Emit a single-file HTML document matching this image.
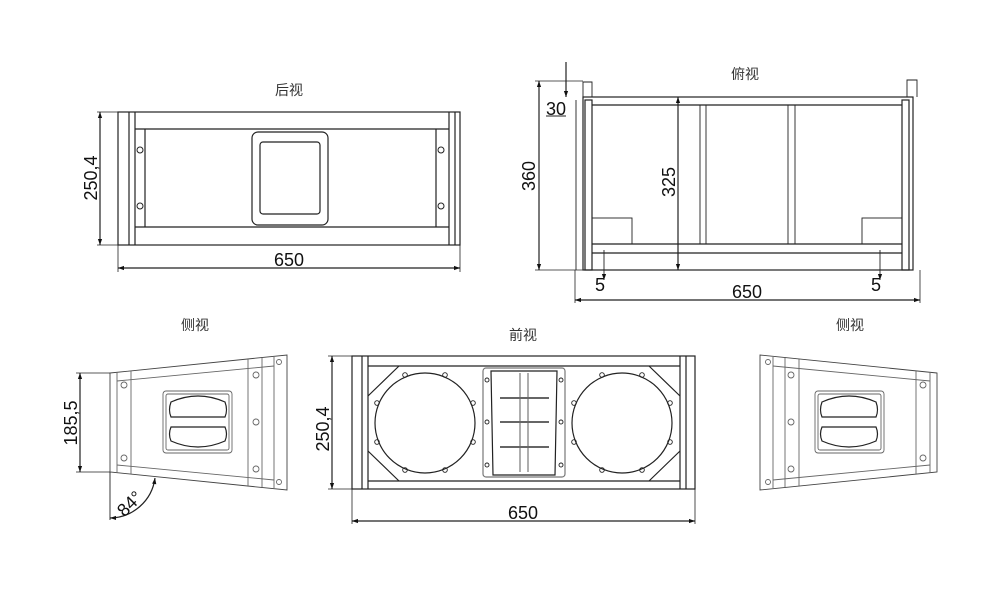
<!DOCTYPE html>
<html><head><meta charset="utf-8"><style>
html,body{margin:0;padding:0;background:#fff;}
svg{display:block;}
text{font-family:"Liberation Sans",Arial,sans-serif;fill:#111;}
.cn{font-family:"Liberation Sans","Noto Sans CJK SC",sans-serif;font-size:14px;fill:#333;}
.d{font-size:18px;}
</style></head><body>
<svg width="1000" height="600" viewBox="0 0 1000 600" xmlns="http://www.w3.org/2000/svg">
<defs>
<marker id="a" viewBox="0 0 10 10" refX="10" refY="5" markerWidth="9" markerHeight="6" orient="auto-start-reverse" markerUnits="userSpaceOnUse"><path d="M0,1.5 L10,5 L0,8.5 z" fill="#111"/></marker>
</defs>
<g fill="none" stroke="#222" stroke-width="1.2">

<!-- BACK VIEW -->
<rect x="118" y="112" width="342" height="133"/>
<line x1="129" y1="112" x2="129" y2="245"/><line x1="135" y1="112" x2="135" y2="245"/>
<line x1="449" y1="112" x2="449" y2="245"/><line x1="455" y1="112" x2="455" y2="245"/>
<line x1="135" y1="129" x2="449" y2="129"/><line x1="135" y1="227" x2="449" y2="227"/>
<line x1="145" y1="129" x2="145" y2="227"/><line x1="436" y1="129" x2="436" y2="227"/>
<rect x="252" y="132" width="76" height="93" rx="6"/>
<rect x="260" y="142" width="60" height="72" rx="3"/>
<g stroke-width="1"><circle cx="140" cy="150" r="3"/><circle cx="140" cy="206" r="3"/><circle cx="441" cy="150" r="3"/><circle cx="441" cy="206" r="3"/></g>
<line x1="118" y1="112" x2="97" y2="112" stroke-width="0.8"/><line x1="118" y1="245" x2="97" y2="245" stroke-width="0.8"/>
<line x1="100" y1="112" x2="100" y2="245" marker-start="url(#a)" marker-end="url(#a)"/>
<line x1="118" y1="245" x2="118" y2="272" stroke-width="0.8"/><line x1="460" y1="245" x2="460" y2="272" stroke-width="0.8"/>
<line x1="118" y1="268" x2="460" y2="268" marker-start="url(#a)" marker-end="url(#a)"/>

<!-- TOP VIEW -->
<rect x="583" y="97" width="330" height="173"/>
<line x1="592" y1="105" x2="902" y2="105"/>
<rect x="585" y="100" width="7" height="170"/>
<rect x="902" y="100" width="7" height="170"/>
<line x1="592" y1="244" x2="902" y2="244"/><line x1="592" y1="253" x2="902" y2="253"/>
<rect x="700" y="105" width="6" height="139" stroke-width="0.9"/>
<rect x="788" y="105" width="7" height="139" stroke-width="0.9"/>
<rect x="592" y="218" width="40" height="26" stroke-width="0.9"/>
<rect x="862" y="218" width="40" height="26" stroke-width="0.9"/>
<path d="M583 97 V82 H592 V97 M907 97 V80 H917 V97 M913 100 V270 M576 100 V270" stroke-width="0.9"/>
<line x1="535" y1="81" x2="583" y2="81" stroke-width="0.8"/>
<line x1="535" y1="270" x2="583" y2="270" stroke-width="0.8"/>
<line x1="539" y1="81" x2="539" y2="270" marker-start="url(#a)" marker-end="url(#a)"/>
<line x1="566" y1="62" x2="566" y2="97" marker-end="url(#a)"/>
<line x1="546" y1="116" x2="566" y2="116" stroke-width="0.9"/>
<line x1="678" y1="97" x2="678" y2="270" marker-start="url(#a)" marker-end="url(#a)"/>
<line x1="604" y1="250" x2="604" y2="280" marker-end="url(#a)" stroke-width="0.9"/>
<line x1="880" y1="250" x2="880" y2="280" marker-end="url(#a)" stroke-width="0.9"/>
<line x1="575" y1="270" x2="575" y2="303" stroke-width="0.8"/><line x1="920" y1="270" x2="920" y2="303" stroke-width="0.8"/>
<line x1="575" y1="300" x2="920" y2="300" marker-start="url(#a)" marker-end="url(#a)"/>

<!-- FRONT VIEW -->
<rect x="352" y="356" width="343" height="133"/>
<line x1="362" y1="356" x2="362" y2="489"/><line x1="368" y1="356" x2="368" y2="489"/>
<line x1="680" y1="356" x2="680" y2="489"/><line x1="686" y1="356" x2="686" y2="489"/>
<line x1="368" y1="366" x2="680" y2="366"/><line x1="368" y1="481" x2="680" y2="481"/>
<path d="M368 396 L399 366 M368 451 L399 481 M680 396 L649 366 M680 451 L649 481"/>
<circle cx="425" cy="423" r="50"/><circle cx="622" cy="423" r="50"/>
<g stroke-width="0.9">
<circle cx="405" cy="375" r="2.3"/><circle cx="445" cy="375" r="2.3"/><circle cx="377" cy="403" r="2.3"/><circle cx="473" cy="403" r="2.3"/><circle cx="377" cy="442" r="2.3"/><circle cx="473" cy="442" r="2.3"/><circle cx="405" cy="470" r="2.3"/><circle cx="445" cy="470" r="2.3"/>
<circle cx="602" cy="375" r="2.3"/><circle cx="642" cy="375" r="2.3"/><circle cx="574" cy="403" r="2.3"/><circle cx="670" cy="403" r="2.3"/><circle cx="574" cy="442" r="2.3"/><circle cx="670" cy="442" r="2.3"/><circle cx="602" cy="470" r="2.3"/><circle cx="642" cy="470" r="2.3"/>
<circle cx="487" cy="380" r="2"/><circle cx="561" cy="380" r="2"/><circle cx="487" cy="422" r="2"/><circle cx="561" cy="422" r="2"/><circle cx="487" cy="465" r="2"/><circle cx="561" cy="465" r="2"/>
</g>
<rect x="483" y="368" width="82" height="109" rx="3" stroke="#777"/>
<path d="M491 371 H557 L555 475 H493 Z"/>
<line x1="520" y1="373" x2="520" y2="472" stroke="#777"/><line x1="528" y1="373" x2="528" y2="472" stroke="#777"/>
<g stroke="#666" stroke-width="2"><line x1="500" y1="398" x2="549" y2="398"/><line x1="500" y1="422" x2="549" y2="422"/><line x1="500" y1="447" x2="549" y2="447"/></g>
<line x1="352" y1="356" x2="328" y2="356" stroke-width="0.8"/><line x1="352" y1="489" x2="328" y2="489" stroke-width="0.8"/>
<line x1="332" y1="356" x2="332" y2="489" marker-start="url(#a)" marker-end="url(#a)"/>
<line x1="352" y1="489" x2="352" y2="524" stroke-width="0.8"/><line x1="695" y1="489" x2="695" y2="524" stroke-width="0.8"/>
<line x1="352" y1="521" x2="695" y2="521" marker-start="url(#a)" marker-end="url(#a)"/>

<!-- SIDE VIEW (left) -->
<g id="side" stroke="#666" stroke-width="0.9">
<path d="M110 373 L287 355 L287 490 L110 472 Z" stroke="#444"/>
<line x1="117" y1="372" x2="117" y2="473"/><line x1="131" y1="371" x2="131" y2="474"/>
<line x1="248" y1="359" x2="248" y2="486"/><line x1="262" y1="358" x2="262" y2="487"/><line x1="274" y1="357" x2="274" y2="488"/>
<path d="M117 381 L274 366 M117 465 L274 480"/>
<circle cx="124" cy="385" r="3"/><circle cx="124" cy="458" r="3"/><circle cx="256" cy="375" r="3"/><circle cx="256" cy="422" r="3"/><circle cx="256" cy="469" r="3"/><circle cx="279" cy="362" r="2.5"/><circle cx="279" cy="482" r="2.5"/>
<rect x="163" y="391" width="69" height="62" rx="3"/>
<rect x="166" y="394" width="63" height="56" rx="2"/>
<path d="M171 402 Q198 390 225 402 Q228 410 225 417 H171 Q168 410 171 402 Z" stroke="#222" stroke-width="1.2"/>
<path d="M171 427 H225 Q228 434 225 441 Q198 453 171 441 Q168 434 171 427 Z" stroke="#222" stroke-width="1.2"/>
</g>
<use href="#side" transform="translate(1047,0) scale(-1,1)"/>
<line x1="110" y1="373" x2="76" y2="373" stroke-width="0.8"/><line x1="110" y1="472" x2="76" y2="472" stroke-width="0.8"/>
<line x1="80" y1="373" x2="80" y2="472" marker-start="url(#a)" marker-end="url(#a)"/>
<line x1="110" y1="472" x2="110" y2="520" stroke-width="0.9"/>
<path d="M110 518 A46 46 0 0 0 155 478" marker-start="url(#a)" marker-end="url(#a)"/>
</g>

<!-- TEXT -->
<text class="cn" x="289" y="95" text-anchor="middle">后视</text>
<text class="cn" x="745" y="79" text-anchor="middle">俯视</text>
<text class="cn" x="523" y="340" text-anchor="middle">前视</text>
<text class="cn" x="195" y="330" text-anchor="middle">侧视</text>
<text class="cn" x="850" y="330" text-anchor="middle">侧视</text>
<text class="d" x="289" y="266" text-anchor="middle">650</text>
<text class="d" transform="translate(97,178) rotate(-90)" text-anchor="middle">250,4</text>
<text class="d" transform="translate(535,176) rotate(-90)" text-anchor="middle">360</text>
<text class="d" transform="translate(675,182) rotate(-90)" text-anchor="middle">325</text>
<text class="d" x="556" y="115" text-anchor="middle">30</text>
<text class="d" x="600" y="291" text-anchor="middle">5</text>
<text class="d" x="876" y="291" text-anchor="middle">5</text>
<text class="d" x="747" y="298" text-anchor="middle">650</text>
<text class="d" transform="translate(329,429) rotate(-90)" text-anchor="middle">250,4</text>
<text class="d" x="523" y="519" text-anchor="middle">650</text>
<text class="d" transform="translate(77,423) rotate(-90)" text-anchor="middle">185,5</text>
<text class="d" transform="translate(134,508) rotate(-45)" text-anchor="middle">84°</text>
</svg>
</body></html>
